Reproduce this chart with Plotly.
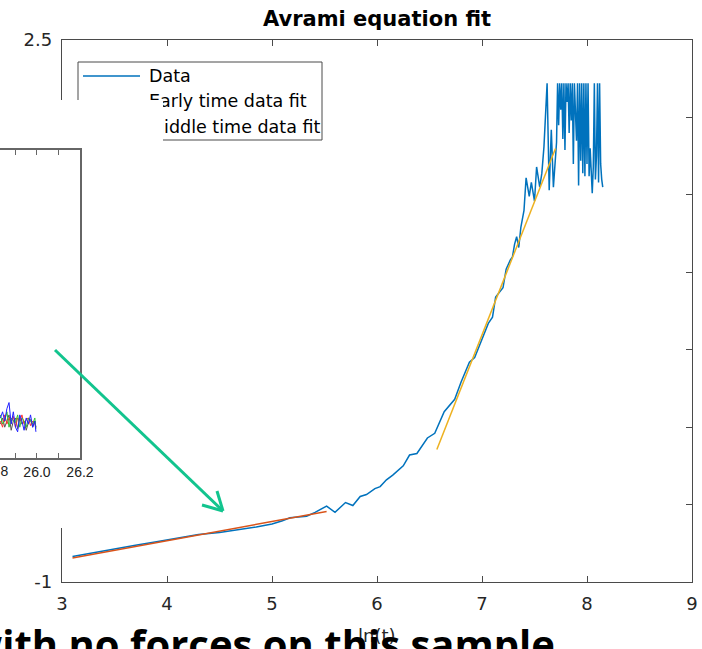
import plotly.graph_objects as go

W, H = 702, 649


def fx(p):
    return p / W


def fy(p):
    return 1 - p / H


# ---------------- main chart data ----------------
ln_t = [3.10, 3.30, 3.50, 3.70, 3.90, 4.10, 4.30, 4.50, 4.70, 4.85, 5.00, 5.10, 5.17, 5.25, 5.33,
        5.41, 5.47, 5.52, 5.60, 5.70, 5.77, 5.84, 5.90, 5.98, 6.03, 6.09, 6.15, 6.25, 6.31, 6.38,
        6.48, 6.55, 6.64, 6.74, 6.80, 6.88, 6.93, 6.99, 7.06, 7.10, 7.13, 7.20, 7.23, 7.27, 7.29,
        7.31, 7.33, 7.35, 7.37, 7.40, 7.42, 7.45, 7.47, 7.50, 7.52, 7.55, 7.57, 7.59, 7.62, 7.64,
        7.66, 7.68, 7.71, 7.72, 7.73, 7.74, 7.75, 7.76, 7.77, 7.78, 7.79, 7.80, 7.81, 7.82, 7.83,
        7.84, 7.85, 7.86, 7.87, 7.88, 7.89, 7.90, 7.91, 7.92, 7.93, 7.94, 7.95, 7.96, 7.97, 7.98,
        7.99, 8.00, 8.01, 8.02, 8.03, 8.04, 8.05, 8.06, 8.07, 8.08, 8.09, 8.10, 8.11, 8.12, 8.13,
        8.14, 8.15]
avrami = [-0.835, -0.810, -0.788, -0.763, -0.740, -0.716, -0.694, -0.680, -0.660, -0.645, -0.625,
          -0.605, -0.585, -0.580, -0.575, -0.550, -0.530, -0.510, -0.550, -0.487, -0.506, -0.448,
          -0.435, -0.397, -0.384, -0.340, -0.310, -0.250, -0.180, -0.170, -0.070, -0.040, 0.100,
          0.180, 0.290, 0.420, 0.450, 0.550, 0.670, 0.710, 0.840, 0.900, 1.020, 1.080, 1.100,
          1.180, 1.230, 1.160, 1.290, 1.400, 1.610, 1.490, 1.580, 1.460, 1.680, 1.550, 1.640,
          1.810, 2.220, 1.530, 1.920, 1.550, 1.840, 2.220, 1.950, 2.220, 2.050, 2.220, 1.860,
          2.220, 1.790, 2.220, 2.100, 2.220, 1.900, 2.220, 1.980, 2.220, 1.700, 2.220, 2.000,
          1.850, 2.220, 1.560, 2.220, 1.720, 2.220, 1.640, 2.220, 1.620, 2.220, 1.700, 2.220,
          1.620, 1.800, 1.600, 1.510, 1.680, 2.220, 1.600, 1.750, 2.220, 1.580, 2.220, 1.700,
          1.600, 1.550]

early_fit_x = [3.10, 5.52]
early_fit_y = [-0.845, -0.545]
middle_fit_x = [6.57, 7.70]
middle_fit_y = [-0.145, 1.80]

x_ticks = [3, 4, 5, 6, 7, 8, 9]
y_ticks = [-1, -0.5, 0, 0.5, 1, 1.5, 2, 2.5]
y_tick_text = ["-1", "-0.5", "0", "0.5", "1", "1.5", "2", "2.5"]

legend_labels = ["Data", "Early time data fit", "Middle time data fit"]
series_colors = ["#0072BD", "#D95319", "#EDB120"]

# ---------------- inset (pasted picture) data ----------------
inset_x = [25.830, 25.840, 25.850, 25.860, 25.870, 25.880, 25.890, 25.900, 25.910,
           25.920, 25.930, 25.940, 25.950, 25.960, 25.970, 25.980, 25.990, 25.995]
inset_gray = [0.11, 0.13, 0.10, 0.12, 0.14, 0.09, 0.12, 0.13, 0.095,
              0.13, 0.11, 0.12, 0.09, 0.115, 0.125, 0.10, 0.12, 0.10]
inset_red = [0.12, 0.10, 0.14, 0.11, 0.13, 0.12, 0.135, 0.10, 0.13,
             0.12, 0.14, 0.11, 0.125, 0.13, 0.105, 0.12, 0.11, 0.10]
inset_green = [0.14, 0.11, 0.12, 0.15, 0.10, 0.13, 0.12, 0.115, 0.14,
               0.10, 0.13, 0.12, 0.10, 0.13, 0.12, 0.11, 0.13, 0.095]
inset_blue = [0.13, 0.15, 0.12, 0.16, 0.18, 0.11, 0.15, 0.10, 0.085,
              0.14, 0.12, 0.09, 0.13, 0.11, 0.14, 0.10, 0.12, 0.085]
inset_tick_vals = [25.9, 26.0, 26.1, 26.2]
inset_tick_text = ["", "26.0", "", "26.2"]

caption = "with no forces on this sample"

AX = "#4a4a4a"
TXT = "#262626"
FONT = "DejaVu Sans"
INSET_AX = "#666666"

fig = go.Figure()

# main series
fig.add_trace(go.Scatter(x=ln_t, y=avrami, mode="lines", name=legend_labels[0],
                         line=dict(color=series_colors[0], width=1.5), xaxis="x", yaxis="y"))
fig.add_trace(go.Scatter(x=early_fit_x, y=early_fit_y, mode="lines", name=legend_labels[1],
                         line=dict(color=series_colors[1], width=1.5), xaxis="x", yaxis="y"))
fig.add_trace(go.Scatter(x=middle_fit_x, y=middle_fit_y, mode="lines", name=legend_labels[2],
                         line=dict(color=series_colors[2], width=1.5), xaxis="x", yaxis="y"))

# white pasted-picture overlay (its subplot background hides the main axes beneath)
fig.add_trace(go.Scatter(x=[None], y=[None], mode="lines", xaxis="x2", yaxis="y2",
                         hoverinfo="skip"))

# inset traces
for vals, col in [(inset_gray, "#555555"), (inset_red, "#ff3030"),
                  (inset_green, "#30c030"), (inset_blue, "#2020ff")]:
    fig.add_trace(go.Scatter(x=inset_x, y=vals, mode="lines", line=dict(color=col, width=1),
                             xaxis="x3", yaxis="y3"))

shapes = []
# legend box
shapes.append(dict(type="rect", xref="paper", yref="paper", x0=fx(78), x1=fx(322),
                   y0=fy(140), y1=fy(62), line=dict(color=AX, width=1), fillcolor="white",
                   layer="above"))
legend_y = [76, 101, 127]
for yy, col in zip(legend_y, series_colors):
    shapes.append(dict(type="line", xref="paper", yref="paper", x0=fx(83), x1=fx(140),
                       y0=fy(yy), y1=fy(yy), line=dict(color=col, width=1.5), layer="above"))
# green arrow
G = "#12c48e"
shapes.append(dict(type="line", xref="paper", yref="paper", x0=fx(55), y0=fy(350),
                   x1=fx(222), y1=fy(510), line=dict(color=G, width=3), layer="above"))
shapes.append(dict(type="line", xref="paper", yref="paper", x0=fx(202), y0=fy(505),
                   x1=fx(223), y1=fy(511), line=dict(color=G, width=3), layer="above"))
shapes.append(dict(type="line", xref="paper", yref="paper", x0=fx(217), y0=fy(491),
                   x1=fx(223), y1=fy(511), line=dict(color=G, width=3), layer="above"))

annotations = []
for yy, lab in zip(legend_y, legend_labels):
    annotations.append(dict(xref="paper", yref="paper", x=fx(147), y=fy(yy), text=lab,
                            showarrow=False, xanchor="left", yanchor="middle",
                            font=dict(family=FONT, size=17.5, color="black")))
# white cover of the pasted picture over the legend
annotations.append(dict(xref="paper", yref="paper", x=0, y=fy(100), text=" ",
                        showarrow=False, xanchor="left", yanchor="top", width=163, height=44,
                        bgcolor="white", borderpad=0, borderwidth=0,
                        font=dict(size=10)))
annotations.append(dict(xref="paper", yref="paper", x=fx(377), y=fy(635), text="ln(t)",
                        showarrow=False, xanchor="center", yanchor="middle",
                        font=dict(family=FONT, size=18, color=TXT)))
annotations.append(dict(xref="paper", yref="paper", x=fx(-6), y=fy(471), text="25.8",
                        showarrow=False, xanchor="center", yanchor="middle",
                        font=dict(family="Liberation Sans", size=14, color="#222222")))
annotations.append(dict(xref="paper", yref="paper", x=fx(-34), y=fy(614),
                        text="<b>" + caption + "</b>",
                        showarrow=False, xanchor="left", yanchor="top",
                        font=dict(family="Open Sans", size=40, color="black")))

fig.update_layout(
    width=W, height=H, margin=dict(l=0, r=0, t=0, b=0, pad=0, autoexpand=False),
    paper_bgcolor="white", plot_bgcolor="white", showlegend=False,
    title=dict(text="<b>Avrami equation fit</b>", x=fx(377), xanchor="center",
               y=fy(19), yanchor="middle", yref="container", automargin=False,
               font=dict(family=FONT, size=21, color="black")),
    xaxis=dict(domain=[fx(62), fx(692)], range=[3, 9], tickvals=x_ticks, ticks="inside",
               ticklen=6, tickwidth=1, tickcolor=AX, showline=True, linecolor=AX, linewidth=1.3,
               mirror="ticks", showgrid=False, zeroline=False, anchor="y", automargin=False,
               ticklabelstandoff=5,
               tickfont=dict(family=FONT, size=18, color=TXT)),
    yaxis=dict(domain=[fy(582), fy(40)], range=[-1, 2.5], tickvals=y_ticks,
               ticktext=y_tick_text, ticks="inside", ticklen=6, tickwidth=1, tickcolor=AX,
               showline=True, linecolor=AX, linewidth=1.3, mirror="ticks", showgrid=False,
               zeroline=False, anchor="x", automargin=False, ticklabelstandoff=5,
               tickfont=dict(family=FONT, size=18, color=TXT)),
    xaxis2=dict(domain=[0, fx(163)], range=[0, 1], visible=False, anchor="y2", automargin=False),
    yaxis2=dict(domain=[fy(528), fy(100)], range=[0, 1], visible=False, anchor="x2",
                automargin=False),
    xaxis3=dict(domain=[0, fx(80)], range=[25.828, 26.2001], tickvals=inset_tick_vals,
                ticktext=inset_tick_text, ticks="inside", ticklen=5, tickwidth=1.2,
                tickcolor=INSET_AX, showline=True, linecolor=INSET_AX, linewidth=1.8,
                mirror="ticks", showgrid=False, zeroline=False, anchor="y3", automargin=False,
                tickfont=dict(family="Liberation Sans", size=14, color="#222222")),
    yaxis3=dict(domain=[fy(458), fy(150)], range=[0, 1], side="right", showline=True,
                linecolor=INSET_AX, linewidth=1.8, ticks="", showticklabels=False,
                showgrid=False, zeroline=False, anchor="x3", automargin=False),
    shapes=shapes, annotations=annotations,
)

fig.write_html("out.html")
